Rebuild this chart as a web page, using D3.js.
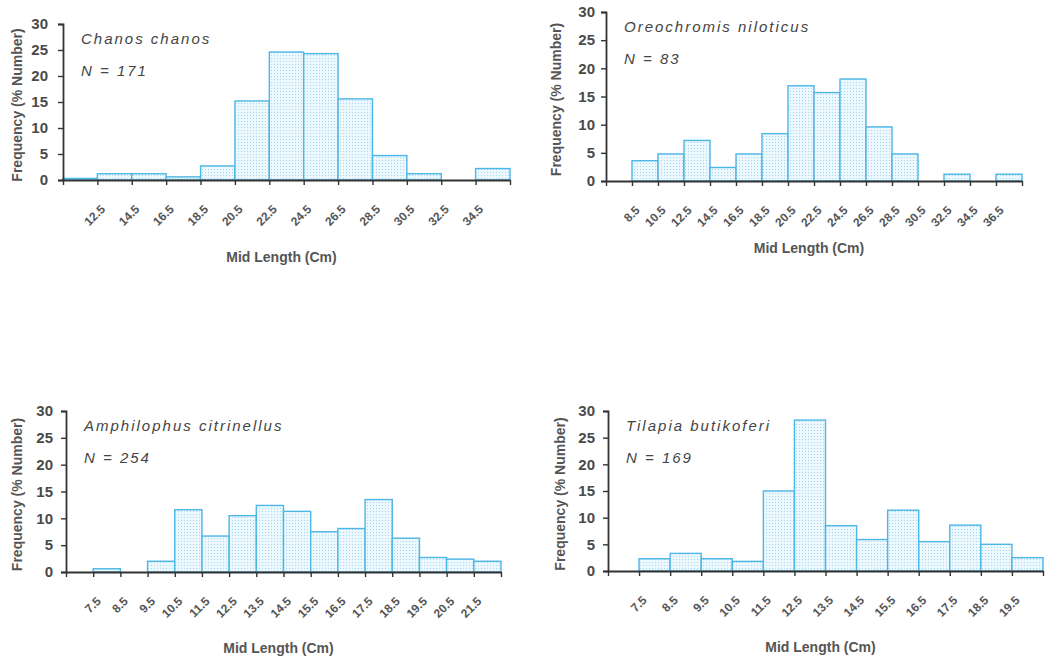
<!DOCTYPE html>
<html>
<head>
<meta charset="utf-8">
<script src="https://cdn.jsdelivr.net/npm/d3@7"></script>
<style>
  body { margin: 0; background: #fff; }
  svg { display: block; font-family: "Liberation Sans", Arial, sans-serif; }
  .tick-y { font-size: 15px; fill: #4a4a4a; font-weight: bold; }
  .tick-x { font-size: 12px; fill: #555; font-weight: bold; }
  .axis-title { font-size: 14px; fill: #555; font-weight: bold; }
  .species { font-size: 15px; font-style: italic; fill: #444; letter-spacing: 2px; }
</style>
</head>
<body>
<div id="chart"></div>
<script>
// Chanos chanos, N = 171
var chanosLabels = ['12.5','14.5','16.5','18.5','20.5','22.5','24.5','26.5','28.5','30.5','32.5','34.5'];
var chanosValues = [0.3, 1.2, 1.2, 0.6, 2.7, 15.2, 24.6, 24.3, 15.6, 4.7, 1.2, 0, 2.2];

// Oreochromis niloticus, N = 83
var oreoLabels = ['8.5','10.5','12.5','14.5','16.5','18.5','20.5','22.5','24.5','26.5','28.5','30.5','32.5','34.5','36.5'];
var oreoValues = [0, 3.6, 4.8, 7.2, 2.4, 4.8, 8.4, 16.9, 15.7, 18.1, 9.6, 4.8, 0, 1.2, 0, 1.2];

// Amphilophus citrinellus, N = 254
var amphiLabels = ['7.5','8.5','9.5','10.5','11.5','12.5','13.5','14.5','15.5','16.5','17.5','18.5','19.5','20.5','21.5'];
var amphiValues = [0, 0.6, 0, 2.0, 11.6, 6.7, 10.5, 12.4, 11.3, 7.5, 8.1, 13.5, 6.3, 2.7, 2.4, 2.0];

// Tilapia butikoferi, N = 169
var tilapiaLabels = ['7.5','8.5','9.5','10.5','11.5','12.5','13.5','14.5','15.5','16.5','17.5','18.5','19.5'];
var tilapiaValues = [0, 2.3, 3.3, 2.3, 1.8, 15.0, 28.3, 8.5, 5.9, 11.4, 5.5, 8.6, 5.0, 2.5];

var yTicks = [0, 5, 10, 15, 20, 25, 30];

var panels = [
  { name: 'Chanos chanos', n: 'N = 171', labels: chanosLabels, values: chanosValues,
    left: 63, right: 510, top: 24, bottom: 180, ylab: 17, xlabY: 262, pad: 10 },
  { name: 'Oreochromis niloticus', n: 'N = 83', labels: oreoLabels, values: oreoValues,
    left: 606, right: 1022, top: 12, bottom: 181, ylab: 556, xlabY: 253, pad: 6 },
  { name: 'Amphilophus citrinellus', n: 'N = 254', labels: amphiLabels, values: amphiValues,
    left: 66, right: 501, top: 411, bottom: 572, ylab: 17, xlabY: 653, pad: 8 },
  { name: 'Tilapia butikoferi', n: 'N = 169', labels: tilapiaLabels, values: tilapiaValues,
    left: 608, right: 1043, top: 411, bottom: 571, ylab: 560, xlabY: 652, pad: 8 }
];

var svg = d3.select('#chart').append('svg')
  .attr('width', 1056)
  .attr('height', 659);

// dotted fill like the scanned bars
var pat = svg.append('defs').append('pattern')
  .attr('id', 'dots')
  .attr('width', 3).attr('height', 3)
  .attr('patternUnits', 'userSpaceOnUse');
pat.append('rect').attr('width', 3).attr('height', 3).attr('fill', '#ecf8fd');
pat.append('rect').attr('x', 1).attr('y', 1).attr('width', 1).attr('height', 1).attr('fill', '#a4daf0');

panels.forEach(function(p) {
  var g = svg.append('g');
  var nb = p.values.length;

  var x = d3.scaleBand().domain(d3.range(nb)).range([p.left, p.right]).padding(0);
  var y = d3.scaleLinear().domain([0, 30]).range([p.bottom, p.top]);

  // bars (empty bins are not drawn)
  var bars = p.values
    .map(function(v, i) { return { v: v, i: i }; })
    .filter(function(d) { return d.v > 0; });

  g.selectAll('rect.bar')
    .data(bars)
    .enter().append('rect')
      .attr('class', 'bar')
      .attr('x', function(d) { return x(d.i); })
      .attr('y', function(d) { return y(d.v); })
      .attr('height', function(d) { return y(0) - y(d.v); })
      .attr('width', x.bandwidth())
      .attr('fill', 'url(#dots)')
      .attr('stroke', '#4cb6e6')
      .attr('stroke-width', 1.4);

  // y axis
  var yAxis = g.append('g')
    .attr('transform', 'translate(' + p.left + ',0)')
    .call(d3.axisLeft(y).tickValues(yTicks).tickSize(5).tickPadding(p.pad));
  yAxis.select('.domain').attr('stroke', '#333').attr('stroke-width', 1.8);
  yAxis.selectAll('.tick line').attr('stroke', '#333').attr('stroke-width', 1.4);
  yAxis.selectAll('.tick text').attr('class', 'tick-y')
    .attr('font-size', null).attr('font-family', null).attr('fill', null);

  // x axis: ticks on bin edges, labels on edges 1..n
  var xe = d3.scaleLinear().domain([0, nb]).range([p.left, p.right]);
  var xAxis = g.append('g')
    .attr('transform', 'translate(0,' + p.bottom + ')')
    .call(d3.axisBottom(xe).tickValues(d3.range(nb + 1)).tickSize(5).tickSizeOuter(0)
      .tickFormat(function(d) { return (d >= 1 && d <= p.labels.length) ? p.labels[d - 1] : ''; }));
  xAxis.select('.domain').attr('stroke', '#333').attr('stroke-width', 2.2);
  xAxis.selectAll('.tick line').attr('stroke', '#333').attr('stroke-width', 1.4);
  xAxis.selectAll('.tick text')
    .attr('class', 'tick-x')
    .attr('font-size', null).attr('font-family', null).attr('fill', null)
    .attr('text-anchor', 'end')
    .attr('y', 0).attr('dy', '0.35em')
    .attr('transform', 'translate(5,27) rotate(-45)');

  // titles
  g.append('text')
    .attr('class', 'axis-title')
    .attr('text-anchor', 'middle')
    .attr('transform', 'translate(' + p.ylab + ',' + ((p.top + p.bottom) / 2 + 3) + ') rotate(-90)')
    .attr('dy', '0.35em')
    .text('Frequency (% Number)');

  g.append('text')
    .attr('class', 'axis-title')
    .attr('text-anchor', 'middle')
    .attr('x', (p.left + p.right) / 2 - 5)
    .attr('y', p.xlabY)
    .text('Mid Length (Cm)');

  g.append('text')
    .attr('class', 'species')
    .attr('x', p.left + 18)
    .attr('y', p.top + 20)
    .text(p.name);

  g.append('text')
    .attr('class', 'species')
    .attr('x', p.left + 18)
    .attr('y', p.top + 52)
    .text(p.n);
});
</script>
</body>
</html>
